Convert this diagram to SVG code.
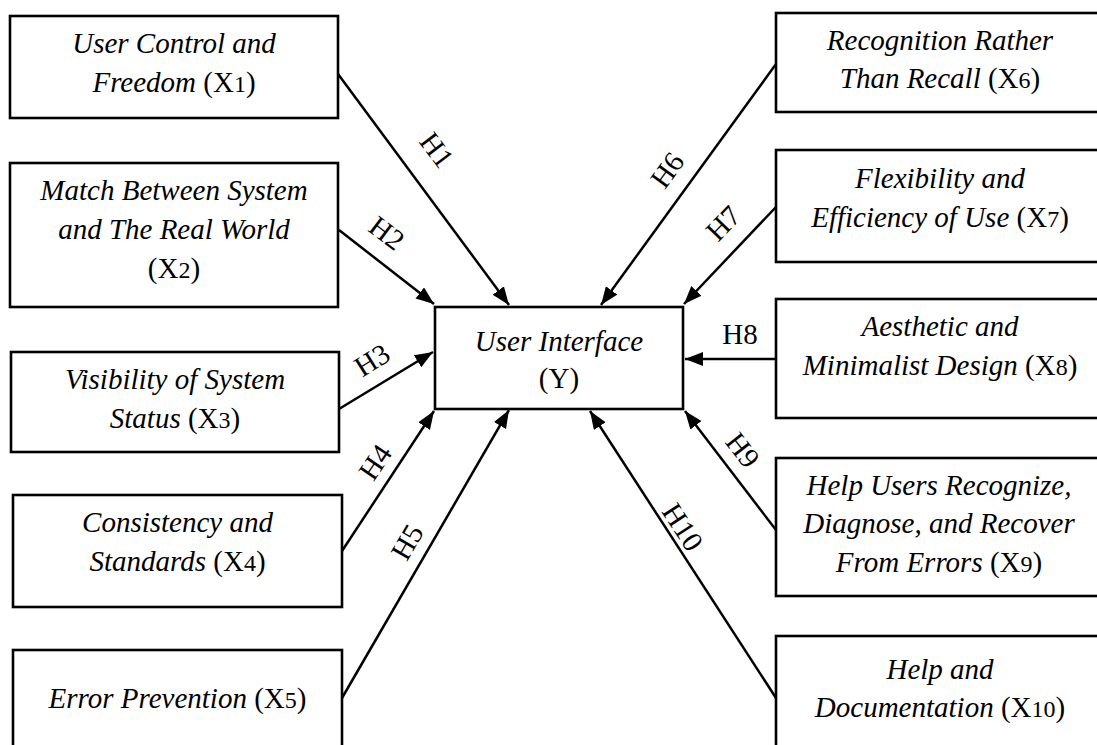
<svg xmlns="http://www.w3.org/2000/svg" width="1097" height="745" viewBox="0 0 1097 745">
<style>
.box{fill:#fff;stroke:#000;stroke-width:2.6}
.t{font-family:"Liberation Serif","Times New Roman",serif;font-size:29px;fill:#000;text-anchor:middle}
.i{font-style:italic}
.d{font-size:24px}
.lbl{font-family:"Liberation Serif","Times New Roman",serif;font-size:29px;fill:#000;text-anchor:middle;dominant-baseline:central}
.con line{stroke:#000;stroke-width:2.5;marker-end:url(#ah)}
</style>
<defs>
<marker id="ah" markerUnits="userSpaceOnUse" markerWidth="20" markerHeight="16" refX="18" refY="7" orient="auto">
<path d="M0,0 L18,7 L0,14 z" fill="#000"/>
</marker>
</defs>
<rect width="1097" height="745" fill="#fff"/>
<g class="con" id="connectors">
<line x1="338" y1="74" x2="509" y2="305"/>
<line x1="339" y1="230" x2="434" y2="304"/>
<line x1="339" y1="409" x2="433" y2="352"/>
<line x1="342" y1="551" x2="434" y2="411"/>
<line x1="342" y1="698" x2="509" y2="410"/>
<line x1="776" y1="64" x2="601" y2="305"/>
<line x1="776" y1="207" x2="684" y2="304"/>
<line x1="776" y1="359" x2="685" y2="359"/>
<line x1="776" y1="530" x2="685" y2="411"/>
<line x1="776" y1="698" x2="590" y2="411"/>
<text class="lbl" transform="translate(437,150) rotate(53)">H1</text>
<text class="lbl" transform="translate(387,233) rotate(37)">H2</text>
<text class="lbl" transform="translate(372,360) rotate(-32)">H3</text>
<text class="lbl" transform="translate(375,462) rotate(-56)">H4</text>
<text class="lbl" transform="translate(407,542) rotate(-60)">H5</text>
<text class="lbl" transform="translate(667,170) rotate(-54)">H6</text>
<text class="lbl" transform="translate(723,223) rotate(-46)">H7</text>
<text class="lbl" transform="translate(740,334)">H8</text>
<text class="lbl" transform="translate(743,450) rotate(52)">H9</text>
<text class="lbl" transform="translate(683,527) rotate(57)">H10</text>
</g>
<g id="x1">
<rect class="box" x="10" y="16" width="328" height="102"/>
<text class="t" x="174" y="53"><tspan class="i">User Control and</tspan></text>
<text class="t" x="174" y="92"><tspan class="i">Freedom</tspan> (X<tspan class="d">1</tspan>)</text>
</g>
<g id="x2">
<rect class="box" x="10" y="163" width="328" height="144"/>
<text class="t" x="174" y="200"><tspan class="i">Match Between System</tspan></text>
<text class="t" x="174" y="239"><tspan class="i">and The Real World</tspan></text>
<text class="t" x="174" y="278">(X<tspan class="d">2</tspan>)</text>
</g>
<g id="x3">
<rect class="box" x="11" y="352" width="328" height="100"/>
<text class="t" x="175" y="389"><tspan class="i">Visibility of System</tspan></text>
<text class="t" x="175" y="428"><tspan class="i">Status</tspan> (X<tspan class="d">3</tspan>)</text>
</g>
<g id="x4">
<rect class="box" x="13" y="495" width="329" height="112"/>
<text class="t" x="177.5" y="532"><tspan class="i">Consistency and</tspan></text>
<text class="t" x="177.5" y="571"><tspan class="i">Standards</tspan> (X<tspan class="d">4</tspan>)</text>
</g>
<g id="x5">
<rect class="box" x="13" y="650" width="329" height="120"/>
<text class="t" x="177.5" y="708"><tspan class="i">Error Prevention</tspan> (X<tspan class="d">5</tspan>)</text>
</g>
<g id="y">
<rect class="box" x="435" y="307" width="248" height="102"/>
<text class="t" x="559" y="351"><tspan class="i">User Interface</tspan></text>
<text class="t" x="559" y="388">(Y)</text>
</g>
<g id="x6">
<rect class="box" x="776" y="13" width="340" height="99"/>
<text class="t" x="940" y="50"><tspan class="i">Recognition Rather</tspan></text>
<text class="t" x="940" y="88"><tspan class="i">Than Recall</tspan> (X<tspan class="d">6</tspan>)</text>
</g>
<g id="x7">
<rect class="box" x="776" y="150" width="340" height="112"/>
<text class="t" x="940" y="188"><tspan class="i">Flexibility and</tspan></text>
<text class="t" x="940" y="227"><tspan class="i">Efficiency of Use</tspan> (X<tspan class="d">7</tspan>)</text>
</g>
<g id="x8">
<rect class="box" x="776" y="299" width="340" height="119"/>
<text class="t" x="940" y="336"><tspan class="i">Aesthetic and</tspan></text>
<text class="t" x="940" y="375"><tspan class="i">Minimalist Design</tspan> (X<tspan class="d">8</tspan>)</text>
</g>
<g id="x9">
<rect class="box" x="776" y="458" width="340" height="138"/>
<text class="t" x="939" y="495"><tspan class="i">Help Users Recognize,</tspan></text>
<text class="t" x="939" y="533"><tspan class="i">Diagnose, and Recover</tspan></text>
<text class="t" x="939" y="572"><tspan class="i">From Errors</tspan> (X<tspan class="d">9</tspan>)</text>
</g>
<g id="x10">
<rect class="box" x="776" y="636" width="340" height="130"/>
<text class="t" x="940" y="679"><tspan class="i">Help and</tspan></text>
<text class="t" x="940" y="717"><tspan class="i">Documentation</tspan> (X<tspan class="d">10</tspan>)</text>
</g>
</svg>
